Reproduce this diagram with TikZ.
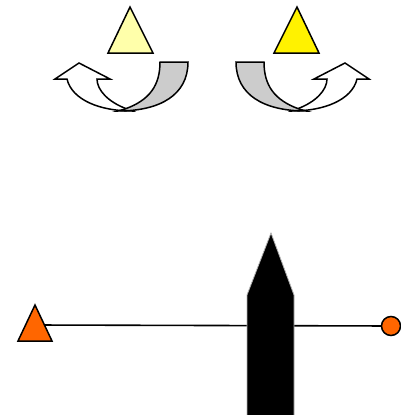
\documentclass[tikz,border=0pt]{standalone}
\begin{document}
\begin{tikzpicture}[x=1pt,y=-1pt,
  outl/.style={draw=black,line width=1.5pt,line join=miter},
  band/.style={outl,fill=bandgray},
  warrow/.style={outl,fill=white}]
\definecolor{paleyellow}{HTML}{FFFFAA}
\definecolor{bandgray}{HTML}{CCCCCC}
\definecolor{orangefill}{HTML}{FF6600}
\useasboundingbox (0,0) rectangle (401,415);
% top triangles
\draw[outl,fill=paleyellow] (130,7) -- (153,53) -- (108,53) -- cycle;
\draw[outl,fill=yellow] (297,7) -- (319,53) -- (274,53) -- cycle;
% left curved arrow
\draw[warrow] (67,79) .. controls (72,100) and (100,111) .. (132,111)
  -- (127,109) .. controls (108,102) and (97,90) .. (97,79)
  -- (110,79) -- (79,63) -- (55,79) -- cycle;
\draw[band] (160,62) -- (188,62) .. controls (188,95) and (160,111) .. (118,111)
  -- (125,109) .. controls (150,100) and (160,85) .. cycle;
% right curved arrow (mirror about x=212)
\begin{scope}[xshift=424pt,x=-1pt]
\draw[warrow] (67,79) .. controls (72,100) and (100,111) .. (132,111)
  -- (127,109) .. controls (108,102) and (97,90) .. (97,79)
  -- (110,79) -- (79,63) -- (55,79) -- cycle;
\draw[band] (160,62) -- (188,62) .. controls (188,95) and (160,111) .. (118,111)
  -- (125,109) .. controls (150,100) and (160,85) .. cycle;
\end{scope}
% bottom line
\coordinate (tri) at (35,325);
\node[draw=black,line width=1.5pt,fill=orangefill,circle,inner sep=0pt,minimum size=19pt] (circ) at (391,326) {};
\draw[line width=1.6pt] (tri) -- (circ);
\draw[outl,fill=orangefill] (35,305) -- (52,341) -- (18,341) -- cycle;
% pencil
\draw[draw=gray!60,line width=0.8pt,fill=black] (247,416) -- (247,295) -- (271,233) -- (294,295) -- (294,416);
\end{tikzpicture}
\end{document}
